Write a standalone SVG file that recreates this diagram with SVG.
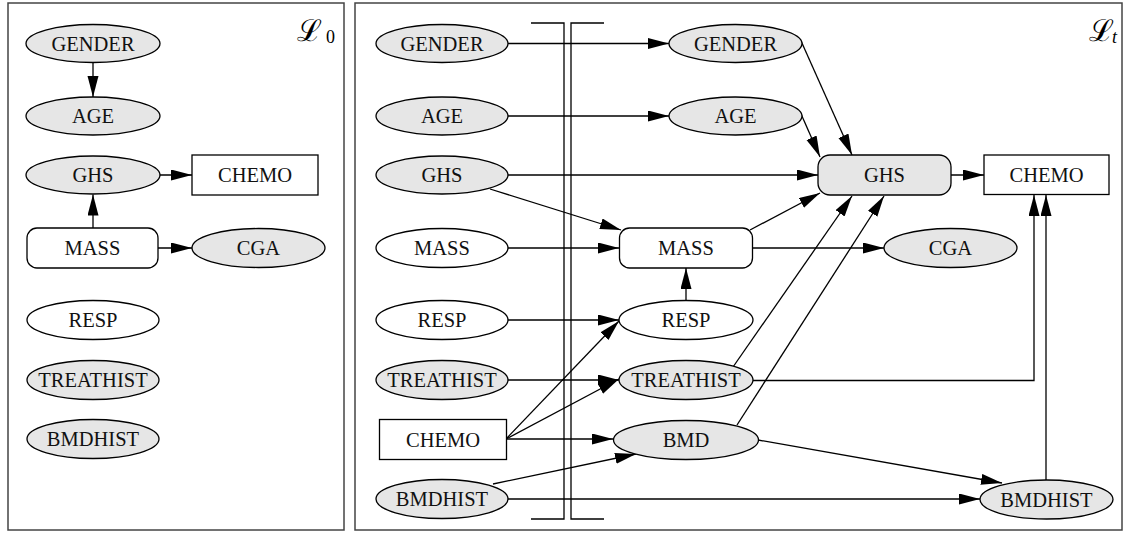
<svg xmlns="http://www.w3.org/2000/svg" width="1125" height="533" viewBox="0 0 1125 533">
<defs>
<style>
.n{stroke:#000;stroke-width:1.3}
.g{fill:#e6e6e6}
.w{fill:#fff}
.t{font-family:"Liberation Serif","Times New Roman",serif;font-size:20.5px;text-anchor:middle;fill:#111}
.e{fill:none;stroke:#000;stroke-width:1.3;marker-end:url(#ah)}
.frame{fill:#fff;stroke:#444;stroke-width:1.5}
.bar{fill:none;stroke:#000;stroke-width:1.3}
.lab{font-family:"DejaVu Serif",serif;font-size:30px;fill:#000}
.sub{font-family:"Liberation Serif",serif;font-size:18px;fill:#000}
</style>
<marker id="ah" markerUnits="userSpaceOnUse" markerWidth="22" markerHeight="12" refX="21" refY="5.5" orient="auto">
<path d="M0,0 L21,5.5 L0,11 Z" fill="#000"/>
</marker>
</defs>
<rect width="1125" height="533" fill="#fff"/>
<rect class="frame" x="8" y="3" width="336" height="527"/>
<rect class="frame" x="355" y="3" width="767" height="527"/>
<g id="label-L0"><text class="lab" x="297" y="41">ℒ</text><text class="sub" x="326" y="43">0</text></g>
<g id="label-Lt"><text class="lab" x="1089" y="41">ℒ</text><text class="sub" x="1112" y="43" font-style="italic">t</text></g>
<g id="separator">
<path class="bar" d="M531,23 H564 V519 H531"/>
<path class="bar" d="M604,23 H571 V519 H604"/>
</g>
<g id="edges">
<path class="e" d="M93,62.5 L93,97"/>
<path class="e" d="M93,228 L93,194.5"/>
<path class="e" d="M159,175 L192,175"/>
<path class="e" d="M158,248 L192,248"/>
<path class="e" d="M508,43.5 L669,43.5"/>
<path class="e" d="M508,116 L669,116"/>
<path class="e" d="M508,175 L818,175"/>
<path class="e" d="M490,189 L621,230"/>
<path class="e" d="M508,248 L619,248"/>
<path class="e" d="M508,320 L619,320"/>
<path class="e" d="M508,380 L619,380"/>
<path class="e" d="M506,439 L619,321"/>
<path class="e" d="M506,439 L619,379"/>
<path class="e" d="M506,439 L613,439"/>
<path class="e" d="M493,484 L636,454"/>
<path class="e" d="M508,499 L980,499"/>
<path class="e" d="M686,301 L686,268"/>
<path class="e" d="M750,230 L820,193"/>
<path class="e" d="M752,248 L884,248"/>
<path class="e" d="M801.5,42 L852,155"/>
<path class="e" d="M801.5,115 L820,157"/>
<path class="e" d="M733,367 L852,196"/>
<path class="e" d="M737,425 L884,196"/>
<path class="e" d="M951,175 L984,175"/>
<path class="e" d="M753,380.5 L1034,380.5 L1034,195"/>
<path class="e" d="M1046,480 L1046,195"/>
<path class="e" d="M758,440 L1002,483"/>
</g>
<g id="l0-gender"><ellipse class="n g" cx="93" cy="43.5" rx="67" ry="19"/><text class="t" x="93" y="50.5">GENDER</text></g>
<g id="l0-age"><ellipse class="n g" cx="93" cy="116" rx="67" ry="19"/><text class="t" x="93" y="123">AGE</text></g>
<g id="l0-ghs"><ellipse class="n g" cx="93" cy="175" rx="67" ry="19"/><text class="t" x="93" y="182">GHS</text></g>
<g id="l0-chemo"><rect class="n w" x="192" y="155" width="126" height="40"/><text class="t" x="255" y="182">CHEMO</text></g>
<g id="l0-mass"><rect class="n w" x="27" y="228" width="131" height="40" rx="10"/><text class="t" x="92.5" y="255">MASS</text></g>
<g id="l0-cga"><ellipse class="n g" cx="258.5" cy="248" rx="66.5" ry="19.5"/><text class="t" x="258.5" y="255">CGA</text></g>
<g id="l0-resp"><ellipse class="n w" cx="93" cy="320" rx="66" ry="19.5"/><text class="t" x="93" y="327">RESP</text></g>
<g id="l0-treathist"><ellipse class="n g" cx="93" cy="380" rx="66" ry="19.5"/><text class="t" x="93" y="387">TREATHIST</text></g>
<g id="l0-bmdhist"><ellipse class="n g" cx="93" cy="439" rx="66" ry="19.5"/><text class="t" x="93" y="446">BMDHIST</text></g>
<g id="a-gender"><ellipse class="n g" cx="442" cy="43.5" rx="66" ry="19"/><text class="t" x="442" y="50.5">GENDER</text></g>
<g id="a-age"><ellipse class="n g" cx="442" cy="116" rx="66" ry="19"/><text class="t" x="442" y="123">AGE</text></g>
<g id="a-ghs"><ellipse class="n g" cx="442" cy="175" rx="66" ry="19"/><text class="t" x="442" y="182">GHS</text></g>
<g id="a-mass"><ellipse class="n w" cx="442" cy="248" rx="66" ry="19.5"/><text class="t" x="442" y="255">MASS</text></g>
<g id="a-resp"><ellipse class="n w" cx="442" cy="320" rx="66" ry="19.5"/><text class="t" x="442" y="327">RESP</text></g>
<g id="a-treathist"><ellipse class="n g" cx="442" cy="380" rx="66" ry="19.5"/><text class="t" x="442" y="387">TREATHIST</text></g>
<g id="a-chemo"><rect class="n w" x="379.5" y="419.5" width="127" height="40"/><text class="t" x="443" y="446.5">CHEMO</text></g>
<g id="a-bmdhist"><ellipse class="n g" cx="442" cy="499" rx="66" ry="19.5"/><text class="t" x="442" y="506">BMDHIST</text></g>
<g id="b-gender"><ellipse class="n g" cx="735.5" cy="43.5" rx="66.5" ry="19"/><text class="t" x="735.5" y="50.5">GENDER</text></g>
<g id="b-age"><ellipse class="n g" cx="735.5" cy="116" rx="66.5" ry="19"/><text class="t" x="735.5" y="123">AGE</text></g>
<g id="b-mass"><rect class="n w" x="619.5" y="228" width="133" height="40" rx="10"/><text class="t" x="686" y="255">MASS</text></g>
<g id="b-resp"><ellipse class="n w" cx="686" cy="320" rx="67" ry="19.5"/><text class="t" x="686" y="327">RESP</text></g>
<g id="b-treathist"><ellipse class="n g" cx="686" cy="380" rx="67" ry="19.5"/><text class="t" x="686" y="387">TREATHIST</text></g>
<g id="b-bmd"><ellipse class="n g" cx="686" cy="440" rx="72.5" ry="19.5"/><text class="t" x="686" y="447">BMD</text></g>
<g id="c-ghs"><rect class="n g" x="818" y="155" width="133" height="40" rx="12"/><text class="t" x="884.5" y="182">GHS</text></g>
<g id="c-chemo"><rect class="n w" x="984" y="155" width="125" height="39.5"/><text class="t" x="1046.5" y="182">CHEMO</text></g>
<g id="c-cga"><ellipse class="n g" cx="950.5" cy="248" rx="66.5" ry="19.5"/><text class="t" x="950.5" y="255">CGA</text></g>
<g id="c-bmdhist"><ellipse class="n g" cx="1046.5" cy="499.5" rx="66.5" ry="19.5"/><text class="t" x="1046.5" y="506.5">BMDHIST</text></g>
</svg>
